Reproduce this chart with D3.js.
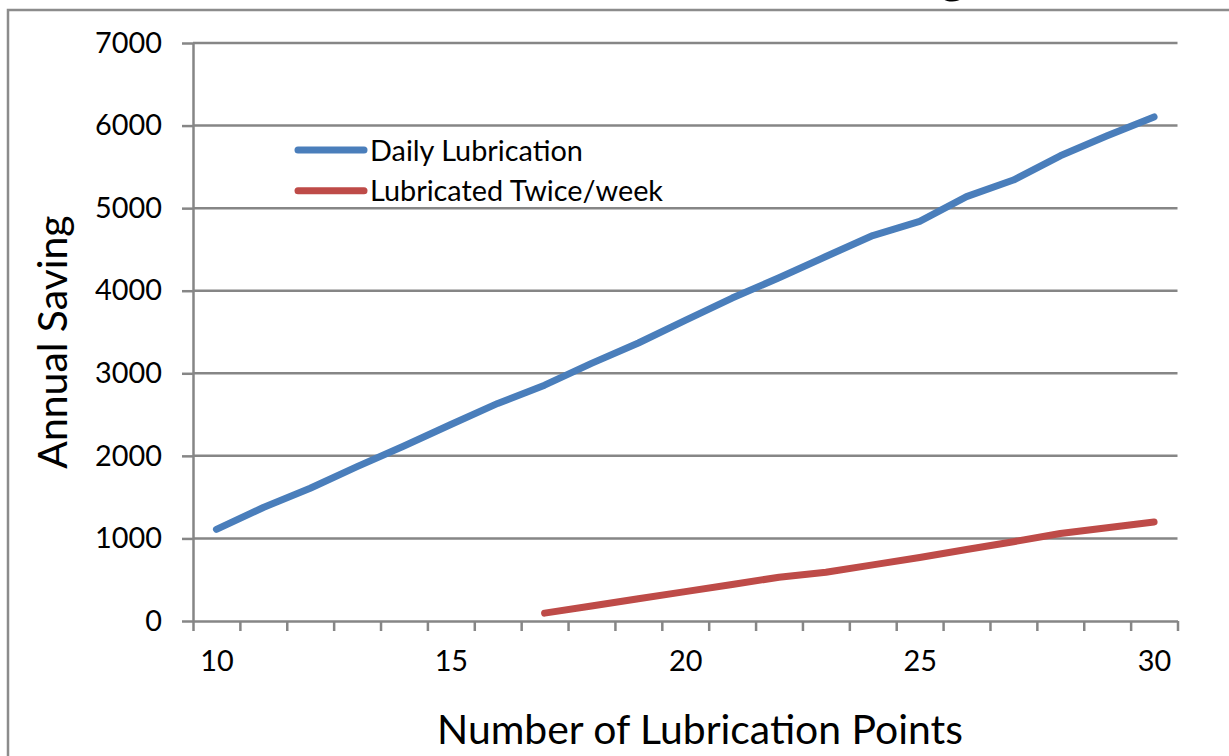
<!DOCTYPE html>
<html>
<head>
<meta charset="utf-8">
<script src="https://cdn.jsdelivr.net/npm/d3@7"></script>
<style>
  body { margin: 0; background: #fff; }
  svg { display: block; }
</style>
</head>
<body>
<svg id="chart" width="1229" height="756"></svg>
<script>
// data
var points = [10, 11, 12, 13, 14, 15, 16, 17, 18, 19, 20, 21, 22, 23, 24, 25, 26, 27, 28, 29, 30];
var daily = [1110, 1375, 1608, 1870, 2120, 2380, 2635, 2856, 3120, 3367, 3641, 3911, 4157, 4414, 4668, 4840, 5139, 5340, 5634, 5876, 6105];
var twice = [null, null, null, null, null, null, null, 95, 182, 269, 356, 443, 530, 590, 680, 770, 865, 960, 1060, 1130, 1200];
var xLabels = [10, 15, 20, 25, 30];
var yTicks = [0, 1000, 2000, 3000, 4000, 5000, 6000, 7000];
var seriesNames = ["Daily Lubrication", "Lubricated Twice/week"];
var seriesColors = ["#4a7ebb", "#be4b48"];

var FONT = "Lato, 'Open Sans', sans-serif";
var GRID = "#868686";

var svg = d3.select("#chart");

function fit(txt, target) {
    var t = svg.append("text").style("font-family", FONT).style("font-size", "100px").text(txt);
    var w = t.node().getComputedTextLength();
    t.remove();
    return 100 * target / w;
}

var smallSize = fit("Daily Lubrication", 213);
var titleSize = fit("Number of Lubrication Points", 526);

var plotLeft = 193, plotRight = 1177.5, plotTop = 43, plotBottom = 621;

var x = d3.scaleLinear()
    .domain([points[0] - 0.5, points[points.length - 1] + 0.5])
    .range([plotLeft, plotRight]);

var y = d3.scaleLinear()
    .domain([0, 7000])
    .range([plotBottom, plotTop]);

// outer chart border (partly outside the picture)
svg.append("rect")
    .attr("x", 8).attr("y", 10)
    .attr("width", 1300).attr("height", 800)
    .attr("fill", "none")
    .attr("stroke", "#8c8c8c")
    .attr("stroke-width", 2.5);

// cut-off title, only the descender shows
svg.append("text")
    .attr("x", 966).attr("y", -7)
    .attr("text-anchor", "end")
    .style("font-family", FONT)
    .style("font-size", "50px")
    .style("font-weight", "bold")
    .text("Annual Saving");

// gridlines
svg.append("g").selectAll("line")
    .data(yTicks.slice(1))
    .enter().append("line")
    .attr("x1", plotLeft).attr("x2", plotRight)
    .attr("y1", function(d) { return y(d); })
    .attr("y2", function(d) { return y(d); })
    .attr("stroke", GRID)
    .attr("stroke-width", 2.5);

// y axis
var yAxis = svg.append("g")
    .attr("transform", "translate(" + plotLeft + ",0)")
    .call(d3.axisLeft(y).tickValues(yTicks).tickSize(11).tickPadding(20).tickSizeOuter(0).tickFormat(d3.format("d")));

// x axis tick marks at category boundaries
var bounds = points.map(function(p) { return p - 0.5; }).concat([points[points.length - 1] + 0.5]);
var xAxis = svg.append("g")
    .attr("transform", "translate(0," + plotBottom + ")")
    .call(d3.axisBottom(x).tickValues(bounds).tickSize(10).tickFormat("").tickSizeOuter(0));

var xLab = svg.append("g")
    .attr("transform", "translate(0," + plotBottom + ")")
    .call(d3.axisBottom(x).tickValues(xLabels).tickSize(0).tickPadding(30).tickFormat(d3.format("d")));
xLab.select(".domain").remove();

[yAxis, xAxis].forEach(function(a) {
    a.selectAll("path, line").attr("stroke", GRID).attr("stroke-width", 2.5);
});
[yAxis, xLab].forEach(function(a) {
    a.selectAll("text")
        .style("font-family", FONT)
        .style("font-size", smallSize + "px")
        .attr("fill", "#000");
});

// lines
var line = d3.line()
    .defined(function(d) { return d[1] != null; })
    .x(function(d) { return x(d[0]); })
    .y(function(d) { return y(d[1]); });

[daily, twice].forEach(function(vals, i) {
    svg.append("path")
        .datum(points.map(function(p, j) { return [p, vals[j]]; }))
        .attr("d", line)
        .attr("fill", "none")
        .attr("stroke", seriesColors[i])
        .attr("stroke-width", 7)
        .attr("stroke-linecap", "round")
        .attr("stroke-linejoin", "round");
});

// legend
var legend = svg.append("g").attr("transform", "translate(297,150)");
seriesNames.forEach(function(name, i) {
    var g = legend.append("g").attr("transform", "translate(0," + (i * 40.7) + ")");
    g.append("line")
        .attr("x1", 1).attr("x2", 67)
        .attr("stroke", seriesColors[i])
        .attr("stroke-width", 7)
        .attr("stroke-linecap", "round");
    g.append("text")
        .attr("x", 73).attr("y", 10.5)
        .style("font-family", FONT)
        .style("font-size", smallSize + "px")
        .text(name);
});

// axis titles
svg.append("text")
    .attr("transform", "translate(67,342) rotate(-90)")
    .attr("text-anchor", "middle")
    .style("font-family", FONT)
    .style("font-size", titleSize + "px")
    .text("Annual Saving");

svg.append("text")
    .attr("x", (437 + 963) / 2).attr("y", 744)
    .attr("text-anchor", "middle")
    .style("font-family", FONT)
    .style("font-size", titleSize + "px")
    .text("Number of Lubrication Points");
</script>
</body>
</html>
